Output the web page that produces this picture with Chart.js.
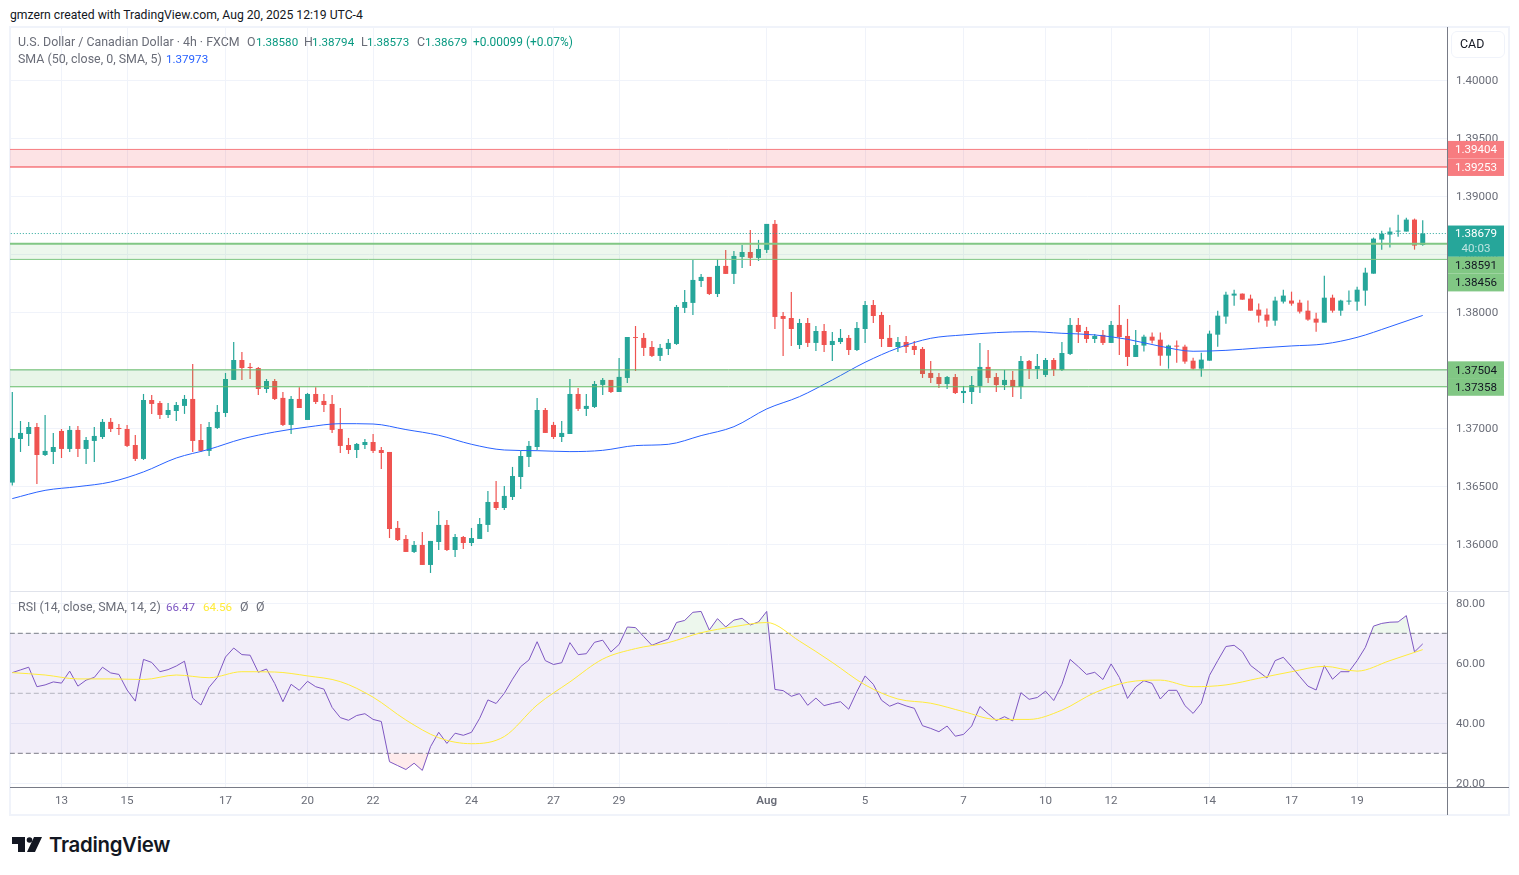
<!DOCTYPE html>
<html>
<head>
<meta charset="utf-8">
<title>USD/CAD 4h</title>
<script src="https://cdn.jsdelivr.net/npm/chart.js@4/dist/chart.umd.min.js"></script>
<style>
  html, body { margin: 0; padding: 0; background: #fff; width: 1519px; height: 875px; overflow: hidden; }
  body { position: relative; font-family: Roboto, sans-serif; font-size: 12.4px; color: #6a6d78; }
  canvas { position: absolute; left: 10px; }
  .t { position: absolute; white-space: nowrap; line-height: 14px; }
  .v { font-size: 11.6px; color: #089981; }
  .line { position: absolute; background: #787b86; }
  .frame { position: absolute; left: 9px; top: 26px; width: 1497px; height: 786px; border: 2px solid #f0f3fa; }
</style>
</head>
<body>
<div class="t" style="left:10px;top:8px;color:#131722;font-size:12.2px">gmzern created with TradingView.com, Aug 20, 2025 12:19 UTC-4</div>
<div class="frame"></div>
<canvas id="priceChart" width="1499" height="564" style="top:27px;width:1499px;height:564px"></canvas>
<canvas id="rsiChart" width="1499" height="223" style="top:592px;width:1499px;height:223px"></canvas>
<div class="line" style="left:1447px;top:27px;width:1px;height:788px"></div>
<div class="line" style="left:10px;top:787px;width:1499px;height:1px"></div>
<div class="line" style="left:10px;top:591px;width:1499px;height:1px;background:#e0e3eb"></div>

<div class="t" style="left:18px;top:35px">U.S. Dollar / Canadian Dollar · 4h · FXCM</div>
<div class="t" style="left:247px;top:35px">O</div><div class="t v" style="left:256px;top:35px">1.38580</div>
<div class="t" style="left:304px;top:35px">H</div><div class="t v" style="left:312px;top:35px">1.38794</div>
<div class="t" style="left:361px;top:35px">L</div><div class="t v" style="left:367px;top:35px">1.38573</div>
<div class="t" style="left:417px;top:35px">C</div><div class="t v" style="left:425px;top:35px">1.38679</div>
<div class="t v" style="left:473px;top:35px;font-size:11.9px">+0.00099 (+0.07%)</div>
<div class="t" style="left:18px;top:52px">SMA (50, close, 0, SMA, 5)</div>
<div class="t v" style="left:166px;top:52px;color:#2962ff">1.37973</div>
<div class="t" style="left:18px;top:600px">RSI (14, close, SMA, 14, 2)</div>
<div class="t v" style="left:166px;top:600px;color:#7e57c2">66.47</div>
<div class="t v" style="left:203px;top:600px;color:#ffeb3b">64.56</div>
<div class="t" style="left:240px;top:600px">Ø</div>
<div class="t" style="left:256px;top:600px">Ø</div>

<div style="position:absolute;left:1451px;top:31px;width:52px;height:25px;border:1px solid #f0f3fa;border-radius:6px"></div>
<div class="t" style="left:1460px;top:37px;color:#131722">CAD</div>

<svg style="position:absolute;left:12px;top:836px" width="30" height="17" viewBox="0 0 30 17">
  <path d="M0 1H13V16H6V8H0Z" fill="#131722"/>
  <circle cx="17.5" cy="4" r="2.8" fill="#131722"/>
  <path d="M22 1H30L23 16H15Z" fill="#131722"/>
</svg>
<div class="t" style="left:49px;top:833px;font-family:Inter,sans-serif;font-weight:600;font-size:20.4px;line-height:24px;letter-spacing:-0.3px;color:#131722">TradingView</div>

<script>
const opens = [
  1.36532,1.36908,1.36951,1.37011,1.36770,1.36796,1.36977,1.36822,1.36986,1.36822,
  1.36891,1.36925,1.37055,1.37003,1.36994,1.36856,1.36736,1.37244,1.37218,1.37115,
  1.37149,1.37193,1.37253,1.36899,1.36805,1.37003,1.37132,1.37417,1.37589,1.37529,
  1.37520,1.37339,1.37408,1.37262,1.37029,1.37253,1.37072,1.37296,1.37236,1.37210,
  1.36994,1.36856,1.36813,1.36856,1.36882,1.36813,1.36796,1.36141,1.36046,1.35934,
  1.35994,1.35822,1.36020,1.36167,1.35951,1.36063,1.36011,1.36046,1.36167,1.36365,
  1.36313,1.36408,1.36580,1.36753,1.36839,1.37158,1.37029,1.36925,1.36951,1.37296,
  1.37167,1.37184,1.37374,1.37417,1.37313,1.37434,1.37787,1.37779,1.37701,1.37624,
  1.37684,1.37727,1.38038,1.38081,1.38270,1.38305,1.38158,1.38400,1.38331,1.38477,
  1.38520,1.38469,1.38538,1.38762,1.37968,1.37951,1.37718,1.37908,1.37736,1.37839,
  1.37718,1.37744,1.37779,1.37675,1.37856,1.38063,1.37977,1.37779,1.37701,1.37744,
  1.37710,1.37684,1.37477,1.37442,1.37382,1.37442,1.37304,1.37313,1.37365,1.37529,
  1.37442,1.37373,1.37417,1.37356,1.37580,1.37511,1.37460,1.37589,1.37503,1.37641,
  1.37891,1.37839,1.37770,1.37805,1.37736,1.37891,1.37796,1.37615,1.37713,1.37790,
  1.37764,1.37626,1.37713,1.37704,1.37583,1.37514,1.37583,1.37807,1.37963,1.38144,
  1.38161,1.38118,1.38023,1.37980,1.37928,1.38092,1.38101,1.38083,1.38014,1.37945,
  1.37911,1.38126,1.38014,1.38092,1.38092,1.38187,1.38333,1.38627,1.38670,1.38696,
  1.38696,1.38799,1.38580
];
const highs = [
  1.37313,1.37063,1.37055,1.37046,1.37115,1.36960,1.36994,1.37020,1.37020,1.36925,
  1.37011,1.37080,1.37089,1.37037,1.37029,1.36943,1.37296,1.37287,1.37236,1.37218,
  1.37227,1.37287,1.37555,1.37037,1.37055,1.37201,1.37477,1.37744,1.37658,1.37563,
  1.37529,1.37425,1.37425,1.37313,1.37279,1.37353,1.37305,1.37353,1.37296,1.37287,
  1.37175,1.36917,1.36874,1.36908,1.36951,1.36839,1.36796,1.36201,1.36080,1.36029,
  1.36106,1.36029,1.36287,1.36210,1.36089,1.36072,1.36141,1.36227,1.36460,1.36546,
  1.36503,1.36667,1.36805,1.36891,1.37262,1.37175,1.37055,1.37063,1.37425,1.37348,
  1.37296,1.37408,1.37434,1.37417,1.37606,1.37787,1.37882,1.37822,1.37753,1.37727,
  1.37770,1.38063,1.38193,1.38451,1.38331,1.38305,1.38457,1.38538,1.38529,1.38581,
  1.38710,1.38624,1.38762,1.38796,1.38003,1.38175,1.37943,1.37951,1.37882,1.37899,
  1.37830,1.37856,1.37805,1.37917,1.38098,1.38106,1.38003,1.37891,1.37787,1.37796,
  1.37753,1.37701,1.37580,1.37477,1.37451,1.37468,1.37365,1.37451,1.37736,1.37675,
  1.37477,1.37503,1.37494,1.37624,1.37589,1.37641,1.37606,1.37606,1.37744,1.37951,
  1.37951,1.37874,1.37813,1.37848,1.37925,1.38063,1.37943,1.37848,1.37807,1.37825,
  1.37825,1.37721,1.37756,1.37721,1.37609,1.37652,1.37842,1.38014,1.38178,1.38195,
  1.38161,1.38152,1.38075,1.38032,1.38135,1.38195,1.38178,1.38109,1.38101,1.37997,
  1.38316,1.38152,1.38109,1.38187,1.38221,1.38385,1.38644,1.38704,1.38730,1.38842,
  1.38816,1.38808,1.38794
];
const lows = [
  1.36506,1.36796,1.36848,1.36520,1.36761,1.36692,1.36744,1.36796,1.36753,1.36692,
  1.36710,1.36908,1.36968,1.36943,1.36839,1.36718,1.36727,1.37124,1.37080,1.37089,
  1.37063,1.37124,1.36796,1.36796,1.36761,1.36994,1.37098,1.37417,1.37417,1.37425,
  1.37287,1.37305,1.37244,1.37020,1.36951,1.37175,1.37072,1.37210,1.37141,1.36960,
  1.36787,1.36779,1.36744,1.36822,1.36787,1.36649,1.36054,1.36029,1.35934,1.35925,
  1.35822,1.35753,1.35951,1.35942,1.35891,1.35960,1.35985,1.36046,1.36106,1.36296,
  1.36296,1.36382,1.36477,1.36667,1.36813,1.36960,1.36908,1.36882,1.36951,1.37149,
  1.37106,1.37175,1.37287,1.37305,1.37313,1.37391,1.37494,1.37624,1.37615,1.37581,
  1.37632,1.37719,1.37994,1.37977,1.38219,1.38150,1.38132,1.38331,1.38244,1.38382,
  1.38400,1.38443,1.38512,1.37856,1.37624,1.37710,1.37684,1.37701,1.37667,1.37658,
  1.37580,1.37727,1.37632,1.37667,1.37736,1.37908,1.37701,1.37701,1.37658,1.37649,
  1.37632,1.37434,1.37391,1.37348,1.37339,1.37296,1.37218,1.37210,1.37304,1.37391,
  1.37313,1.37330,1.37270,1.37253,1.37425,1.37425,1.37442,1.37451,1.37494,1.37632,
  1.37736,1.37736,1.37736,1.37718,1.37736,1.37632,1.37537,1.37615,1.37661,1.37730,
  1.37540,1.37514,1.37566,1.37557,1.37506,1.37445,1.37583,1.37704,1.37902,1.38057,
  1.38109,1.38014,1.37911,1.37876,1.37885,1.38075,1.38057,1.37989,1.37928,1.37833,
  1.37911,1.37997,1.37971,1.38066,1.38014,1.38057,1.38333,1.38540,1.38558,1.38652,
  1.38696,1.38540,1.38573
];
const closes = [
  1.36917,1.36960,1.37011,1.36770,1.36805,1.36839,1.36822,1.36986,1.36822,1.36899,
  1.36934,1.37055,1.36994,1.36994,1.36848,1.36736,1.37244,1.37210,1.37115,1.37158,
  1.37201,1.37253,1.36891,1.36805,1.37011,1.37141,1.37425,1.37589,1.37520,1.37520,
  1.37339,1.37408,1.37253,1.37029,1.37253,1.37175,1.37296,1.37227,1.37201,1.36986,
  1.36848,1.36813,1.36865,1.36882,1.36805,1.36787,1.36132,1.36037,1.35934,1.35994,
  1.35822,1.36029,1.36167,1.35951,1.36063,1.36011,1.36054,1.36175,1.36365,1.36313,
  1.36417,1.36589,1.36761,1.36848,1.37158,1.36960,1.36925,1.36960,1.37296,1.37167,
  1.37193,1.37382,1.37417,1.37313,1.37443,1.37787,1.37779,1.37693,1.37624,1.37693,
  1.37736,1.38046,1.38089,1.38279,1.38305,1.38158,1.38400,1.38331,1.38486,1.38520,
  1.38469,1.38546,1.38762,1.37960,1.37943,1.37856,1.37908,1.37736,1.37839,1.37718,
  1.37753,1.37779,1.37675,1.37865,1.38063,1.37968,1.37770,1.37701,1.37744,1.37701,
  1.37675,1.37468,1.37434,1.37382,1.37442,1.37304,1.37322,1.37373,1.37529,1.37434,
  1.37373,1.37417,1.37356,1.37580,1.37511,1.37537,1.37589,1.37503,1.37649,1.37891,
  1.37830,1.37770,1.37796,1.37736,1.37891,1.37787,1.37615,1.37718,1.37790,1.37756,
  1.37626,1.37713,1.37704,1.37575,1.37514,1.37592,1.37816,1.37971,1.38152,1.38161,
  1.38109,1.38014,1.37971,1.37928,1.38101,1.38144,1.38075,1.38006,1.37937,1.37911,
  1.38126,1.38014,1.38101,1.38101,1.38195,1.38342,1.38635,1.38678,1.38696,1.38704,
  1.38799,1.38575,1.38679
];
const avgBars = [
  0,4,8,12,16,20,24,28,32,36,40,44,48,52,56,60,64,68,72,76,80,84,88,
  92,96,100,104,108,112,116,120,124,128,132,136,140,144,148,152,156,160,164,168,172
];
const smaValues = [
  1.36394,1.36465,1.36497,1.36537,1.36624,1.36744,1.36819,1.36908,1.36968,1.37011,1.37040,1.37037,
  1.36989,1.36940,1.36862,1.36813,1.36807,1.36799,1.36810,1.36851,1.36862,1.36937,1.37014,
  1.37167,1.37273,1.37417,1.37569,1.37692,1.37776,1.37805,1.37825,1.37833,1.37819,1.37805,1.37767,
  1.37707,1.37664,1.37672,1.37692,1.37710,1.37727,1.37784,1.37876,1.37973
];
const rsiValues = [
  56.9,57.8,58.7,52.2,52.8,53.8,53.4,57.4,52.4,54.4,55.3,58.7,56.8,56.3,51.1,47.4,61.3,60.3,57.2,57.9,
  59.1,60.7,48.4,46.1,52.0,55.3,62.1,65.1,62.9,62.7,57.0,58.1,53.3,47.2,53.0,51.0,54.0,52.2,51.4,45.3,
  41.9,41.0,42.6,43.2,41.3,40.6,27.2,25.9,24.6,26.7,24.3,32.2,37.0,33.3,36.7,36.0,37.0,41.7,47.8,46.6,
  50.0,54.7,58.9,61.1,67.2,60.9,59.6,60.2,66.9,62.9,63.2,67.0,67.7,63.8,66.3,72.1,71.9,68.9,66.0,67.1,
  68.1,73.6,74.3,77.0,77.3,71.1,74.9,72.1,74.4,75.0,72.8,73.8,77.3,51.3,50.9,49.0,49.9,46.0,48.4,45.9,
  46.6,47.2,44.7,50.6,55.8,53.0,47.7,45.7,46.8,45.8,45.0,39.2,38.3,37.2,39.1,35.7,36.3,39.1,45.6,43.2,
  40.9,42.2,40.8,50.2,48.0,48.6,50.7,47.6,53.0,61.3,58.9,56.3,57.0,54.6,59.8,55.3,48.3,52.1,54.2,53.3,
  48.1,51.0,51.0,45.9,43.3,46.7,56.0,60.9,65.6,66.0,63.9,59.3,57.2,55.1,60.9,62.0,58.9,55.6,52.4,51.1,
  59.2,54.7,57.2,57.2,60.9,65.3,72.4,73.3,73.7,73.8,75.9,63.8,66.47
];
const rsiAvgValues = [
  56.9,56.1,54.8,54.8,54.6,56.1,55.2,57.2,57.1,55.8,53.9,48.7,41.1,35.2,33.2,35.6,46.1,53.8,61.4,64.9,66.9,70.2,
  72.2,73.6,67.4,60.3,52.8,48.1,46.7,43.9,41.3,41.3,44.4,50.2,53.7,54.4,52.2,52.8,55.0,57.2,59.0,57.4,60.9,64.56
];
const dateBars = [6,14,26,36,44,56,66,74,92,104,116,126,134,146,156,164];
const dateLabels = ['13','15','17','20','22','24','27','29','Aug','5','7','10','12','14','17','19'];
const priceTicks = [1.36,1.365,1.37,1.375,1.38,1.385,1.39,1.395,1.40];
const rsiTicks = [20,40,60,80];
const redZone = [1.39404,1.39253];
const upperGreenZone = [1.38591,1.38456];
const lowerGreenZone = [1.37504,1.37358];
const lastPrice = 1.38679;
const countdown = '40:03';
const rsiBand = [70,30];
const rsiMiddle = 50;

const UP = '#26a69a';
const DOWN = '#ef5350';
const GRID = '#f0f3fa';
const TICK = '#6a6d78';
const FONT = 'Roboto, sans-serif';
const X_MIN = -0.28;
const X_MAX = 174.96;

const barColors = closes.map((c, i) => (c >= opens[i] ? UP : DOWN));

function level(value, color, width, extra) {
    return Object.assign({
        type: 'line',
        data: [{ x: X_MIN - 1, y: value }, { x: X_MAX + 1, y: value }],
        borderColor: color,
        borderWidth: width,
        pointRadius: 0,
        order: 1,
    }, extra);
}

function xAxis(showLabels, height) {
    return {
        type: 'linear',
        min: X_MIN,
        max: X_MAX,
        offset: false,
        afterBuildTicks: (scale) => { scale.ticks = dateBars.map((v) => ({ value: v })); },
        afterFit: (scale) => {
            scale.height = height;
            scale.paddingLeft = 0;
            scale.paddingRight = 0;
        },
        border: { display: false },
        grid: { color: GRID, drawTicks: false, offset: false },
        ticks: {
            display: showLabels,
            autoSkip: false,
            maxRotation: 0,
            padding: 7,
            color: TICK,
            font: (ctx) => ({ family: FONT, size: 11.6, weight: ctx.tick && ctx.tick.value === 92 ? '600' : '400' }),
            callback: (value) => dateLabels[dateBars.indexOf(value)],
        },
    };
}

function yAxis(min, max, tickValues, digits) {
    return {
        position: 'right',
        min: min,
        max: max,
        afterBuildTicks: (scale) => { scale.ticks = tickValues.map((v) => ({ value: v })); },
        afterFit: (scale) => {
            scale.width = 62;
            scale.paddingTop = 0;
            scale.paddingBottom = 0;
        },
        border: { display: false },
        grid: { color: GRID, drawTicks: false },
        ticks: {
            padding: 9,
            labelOffset: 0.5,
            color: TICK,
            font: { family: FONT, size: 11.6 },
            callback: (value) => value.toFixed(digits),
        },
    };
}

// price labels on the axis; the two upper green ones are pushed down as in the picture
const priceTags = {
    id: 'priceTags',
    afterDraw(chart) {
        const { ctx, chartArea, scales } = chart;
        const left = chartArea.right + 1;
        const tags = [
            { value: redZone[0], bg: '#f77c80', fg: '#fff', shift: 0 },
            { value: redZone[1], bg: '#f77c80', fg: '#fff', shift: 0 },
            { value: upperGreenZone[0], bg: '#81c784', fg: '#131722', shift: 21 },
            { value: upperGreenZone[1], bg: '#81c784', fg: '#131722', shift: 23 },
            { value: lowerGreenZone[0], bg: '#81c784', fg: '#131722', shift: 0 },
            { value: lowerGreenZone[1], bg: '#81c784', fg: '#131722', shift: 0 },
        ];
        ctx.save();
        ctx.font = '11.6px ' + FONT;
        ctx.textAlign = 'center';
        ctx.textBaseline = 'middle';
        const lastY = scales.y.getPixelForValue(lastPrice);
        tags.forEach((tag) => {
            const y = scales.y.getPixelForValue(tag.value) + tag.shift;
            ctx.fillStyle = tag.bg;
            ctx.fillRect(left, y - 8.5, 56, 17.5);
            ctx.fillStyle = tag.fg;
            ctx.fillText(tag.value.toFixed(5), left + 28, y + 1);
        });
        ctx.fillStyle = UP;
        ctx.fillRect(left, lastY - 8, 56, 31);
        ctx.fillStyle = '#fff';
        ctx.fillText(lastPrice.toFixed(5), left + 28, lastY + 1);
        ctx.fillStyle = 'rgba(255,255,255,0.7)';
        ctx.fillText(countdown, left + 28, lastY + 15.5);
        ctx.restore();
    },
};

new Chart(document.getElementById('priceChart'), {
    type: 'bar',
    plugins: [priceTags],
    data: {
        datasets: [
            {
                data: closes.map((c, i) => ({ x: i, y: [lows[i], highs[i]] })),
                backgroundColor: barColors,
                maxBarThickness: 1.2,
                grouped: false,
                inflateAmount: 0,
                order: 4,
            },
            {
                data: closes.map((c, i) => ({ x: i, y: [opens[i], c] })),
                backgroundColor: barColors,
                maxBarThickness: 5,
                grouped: false,
                inflateAmount: 0,
                order: 3,
            },
            {
                type: 'line',
                data: avgBars.map((b, i) => ({ x: b, y: smaValues[i] })),
                borderColor: '#2962ff',
                borderWidth: 1,
                pointRadius: 0,
                cubicInterpolationMode: 'monotone',
                order: 2,
            },
            level(redZone[0], '#f77c80', 1, { fill: '+1', backgroundColor: 'rgba(242,54,69,0.14)' }),
            level(redZone[1], '#f77c80', 1.5),
            level(upperGreenZone[0], '#81c784', 2, { fill: '+1', backgroundColor: 'rgba(76,175,80,0.1)' }),
            level(upperGreenZone[1], '#81c784', 1),
            level(lowerGreenZone[0], '#66bb6a', 1, { fill: '+1', backgroundColor: 'rgba(76,175,80,0.13)' }),
            level(lowerGreenZone[1], '#66bb6a', 1),
            level(lastPrice, UP, 1, { borderDash: [1, 2] }),
        ],
    },
    options: {
        responsive: false,
        animation: false,
        events: [],
        layout: { padding: 0 },
        plugins: { legend: { display: false }, tooltip: { enabled: false } },
        scales: {
            x: xAxis(false, 0),
            y: yAxis(1.355974, 1.404595, priceTicks, 5),
        },
    },
});

new Chart(document.getElementById('rsiChart'), {
    type: 'line',
    data: {
        datasets: [
            level(rsiBand[0], 'transparent', 0, { fill: '+1', backgroundColor: 'rgba(126,87,194,0.1)', order: 5 }),
            level(rsiBand[1], 'transparent', 0, { order: 5 }),
            level(rsiBand[0], '#787b86', 1, { borderDash: [5, 3], order: 4 }),
            level(rsiMiddle, 'rgba(120,123,134,0.5)', 1, { borderDash: [5, 3], order: 4 }),
            level(rsiBand[1], '#787b86', 1, { borderDash: [5, 3], order: 4 }),
            {
                data: rsiValues.map((v, i) => ({ x: i, y: v })),
                borderColor: 'transparent',
                borderWidth: 0,
                pointRadius: 0,
                fill: { target: { value: 30 }, above: 'transparent', below: 'rgba(242,54,69,0.1)' },
                order: 3,
            },
            {
                data: rsiValues.map((v, i) => ({ x: i, y: v })),
                borderColor: '#7e57c2',
                borderWidth: 1,
                pointRadius: 0,
                fill: { target: { value: 70 }, above: 'rgba(76,175,80,0.1)', below: 'transparent' },
                order: 2,
            },
            {
                data: avgBars.map((b, i) => ({ x: b, y: rsiAvgValues[i] })),
                borderColor: '#ffeb3b',
                borderWidth: 1,
                pointRadius: 0,
                cubicInterpolationMode: 'monotone',
                order: 1,
            },
        ],
    },
    options: {
        responsive: false,
        animation: false,
        events: [],
        layout: { padding: 0 },
        plugins: { legend: { display: false }, tooltip: { enabled: false } },
        scales: {
            x: xAxis(true, 28),
            y: yAxis(18.77, 83.77, rsiTicks, 2),
        },
    },
});
</script>
</body>
</html>
